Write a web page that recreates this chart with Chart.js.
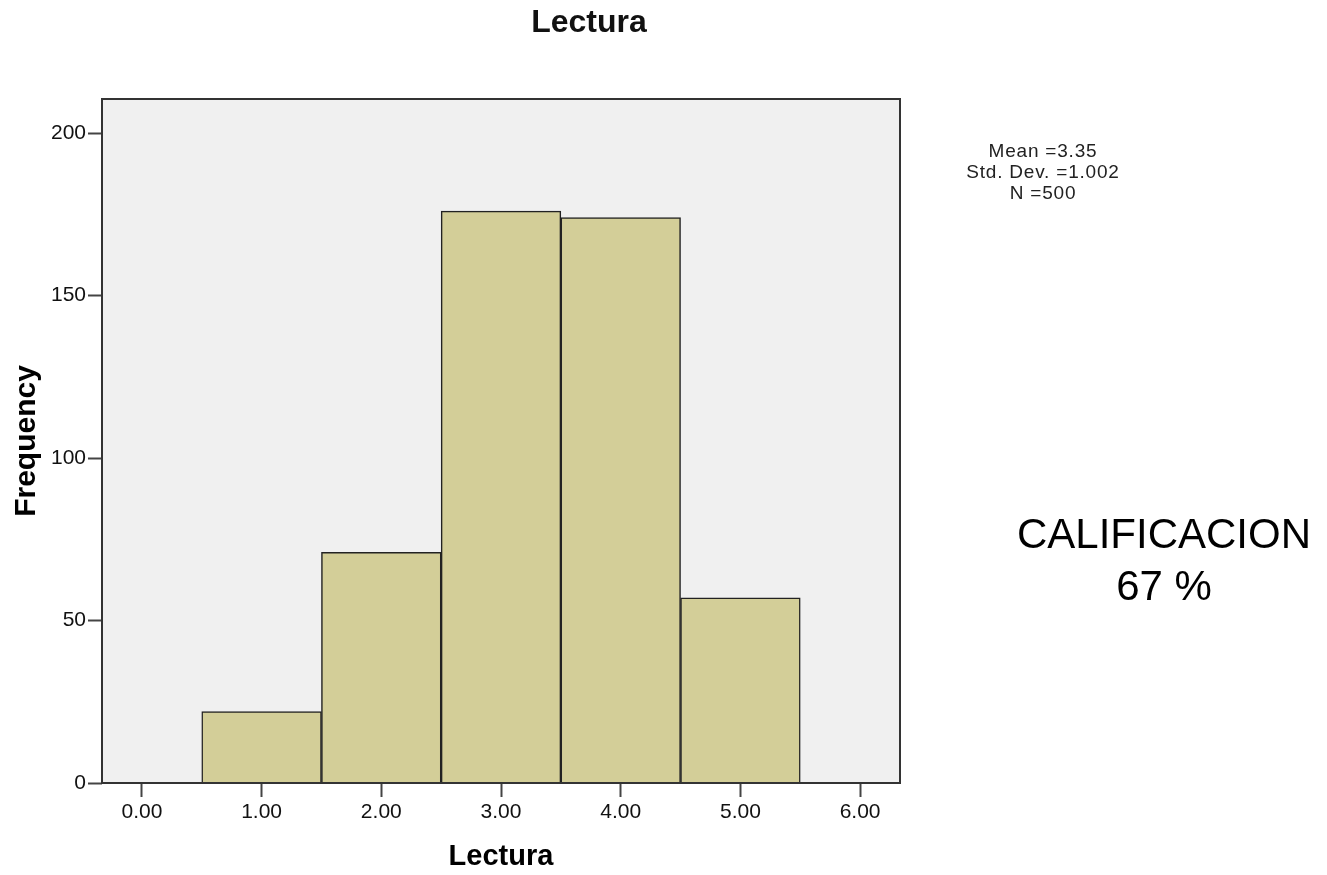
<!DOCTYPE html>
<html>
<head>
<meta charset="utf-8">
<title>Lectura</title>
<script src="https://cdn.jsdelivr.net/npm/chart.js@4.4.1/dist/chart.umd.min.js"></script>
<style>
  html, body { margin: 0; padding: 0; background: #fff; }
  #wrap { position: relative; width: 1327px; height: 875px; font-family: "Liberation Sans", Arial, sans-serif; color: #111; }
  #histo { position: absolute; left: 0; top: 0; }
  .txt { position: absolute; text-align: center; white-space: nowrap; }
  #title { left: 389px; width: 400px; top: 4.6px; font-size: 32px; line-height: 32px; font-weight: bold; }
  #stats { left: 843px; width: 400px; top: 140px; font-size: 19px; line-height: 21px; letter-spacing: 0.8px; color: #222; }
  #grade { left: 964px; width: 400px; top: 508px; font-size: 42px; line-height: 52px; color: #000; }
</style>
</head>
<body>
<div id="wrap">
  <canvas id="histo" width="1327" height="875"></canvas>
  <div class="txt" id="title">Lectura</div>
  <div class="txt" id="stats"></div>
  <div class="txt" id="grade"></div>
</div>
<script>
"use strict";

// Histogram bins (centre of each bin) and their counts
const binCenters = [1, 2, 3, 4, 5];
const frequencies = [22, 71, 176, 174, 57];

// Axis ticks
const xTickValues = [0, 1, 2, 3, 4, 5, 6];
const yTickValues = [0, 50, 100, 150, 200];

// Side notes
const statsLines = ['Mean =3.35', 'Std. Dev. =1.002', 'N =500'];
const gradeLines = ['CALIFICACION', '67 %'];

document.getElementById('stats').innerHTML = statsLines.join('<br>');
document.getElementById('grade').innerHTML = gradeLines.join('<br>');

const fontFamily = '"Liberation Sans", Arial, sans-serif';
const tickFont = { family: fontFamily, size: 21 };
const axisTitleFont = { family: fontFamily, size: 30, weight: 'bold', lineHeight: 1.2 };

// grey panel behind the bars, frame around it afterwards
const plotFrame = {
  id: 'plotFrame',
  beforeDatasetsDraw(chart) {
    const { ctx, chartArea: a } = chart;
    ctx.save();
    ctx.fillStyle = '#f0f0f0';
    ctx.fillRect(a.left, a.top, a.right - a.left, a.bottom - a.top);
    ctx.restore();
  },
  afterDatasetsDraw(chart) {
    const { ctx, chartArea: a } = chart;
    ctx.save();
    ctx.strokeStyle = '#333';
    ctx.lineWidth = 2;
    ctx.strokeRect(a.left, a.top, a.right - a.left, a.bottom - a.top);
    ctx.restore();
  }
};

const ctx = document.getElementById('histo').getContext('2d');

new Chart(ctx, {
  type: 'bar',
  data: {
    datasets: [{
      label: 'Frequency',
      data: binCenters.map((x, i) => ({ x, y: frequencies[i] })),
      backgroundColor: '#d3ce98',
      borderColor: '#222',
      borderWidth: 1.5,
      borderSkipped: 'bottom',
      barPercentage: 1,
      categoryPercentage: 1
    }]
  },
  options: {
    responsive: false,
    animation: false,
    events: [],
    layout: { padding: { top: 99, right: 427, bottom: 0, left: 0 } },
    plugins: {
      legend: { display: false },
      tooltip: { enabled: false },
      title: { display: false }
    },
    scales: {
      x: {
        type: 'linear',
        offset: false,
        min: -1 / 3,
        max: 19 / 3,
        afterBuildTicks: (scale) => { scale.ticks = xTickValues.map(value => ({ value })); },
        afterFit: (scale) => { scale.height = 92; },
        ticks: {
          font: tickFont,
          color: '#111',
          padding: 3,
          maxRotation: 0,
          autoSkip: false,
          callback: (v) => Number(v).toFixed(2)
        },
        grid: { offset: false, drawOnChartArea: false, drawTicks: true, tickLength: 14, tickColor: '#444', tickWidth: 2 },
        border: { display: false },
        title: { display: true, text: 'Lectura', font: { ...axisTitleFont, size: 29 }, color: '#000', padding: { top: 0, bottom: 1 } }
      },
      y: {
        min: 0,
        max: 210.5,
        afterBuildTicks: (scale) => { scale.ticks = yTickValues.map(value => ({ value })); },
        afterFit: (scale) => { scale.width = 102; },
        ticks: { font: tickFont, color: '#111', padding: 2, autoSkip: false },
        grid: { drawOnChartArea: false, drawTicks: true, tickLength: 14, tickColor: '#444', tickWidth: 2 },
        border: { display: false },
        title: { display: true, text: 'Frequency', font: axisTitleFont, color: '#000', padding: { top: 9, bottom: 0 } }
      }
    }
  },
  plugins: [plotFrame]
});
</script>
</body>
</html>
